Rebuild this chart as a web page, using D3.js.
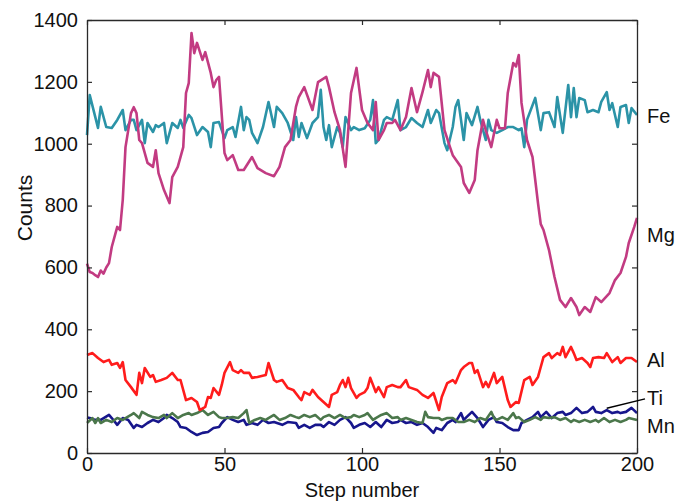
<!DOCTYPE html>
<html>
<head>
<meta charset="utf-8">
<script src="https://cdn.jsdelivr.net/npm/d3@7"></script>
<style>
  html, body { margin: 0; padding: 0; background: #fff; }
  svg { display: block; font-family: "Liberation Sans", Arial, sans-serif; }
</style>
</head>
<body>
<svg id="chart" width="676" height="502"></svg>
<script>
// ---- data: [step, counts] ----
const fe = [[0,1028],[1,1157],[4,1051],[5,1119],[7,1054],[9,1051],[11,1077],[13,1109],[14,1044],[16,1077],[17,1077],[18,1044],[20,1077],[21,1002],[22,1067],[24,1038],[25,1060],[26,1054],[28,1067],[29,1002],[31,1067],[33,1051],[34,1077],[35,1051],[37,1093],[38,1083],[40,1028],[42,1054],[44,1038],[45,989],[46,1067],[48,1070],[50,1018],[51,1044],[53,1054],[54,1022],[56,1119],[57,1044],[58,1086],[59,1077],[60,1035],[62,1002],[64,1054],[66,1135],[68,1054],[69,1119],[71,1099],[73,1067],[75,1012],[76,1086],[77,1022],[78,1067],[80,1018],[82,1067],[84,1086],[85,1174],[86,1054],[87,1012],[88,1060],[89,989],[91,1054],[92,1035],[93,989],[94,1086],[96,1044],[97,1054],[99,1044],[101,1050],[103,1077],[104,1141],[105,1002],[106,1012],[108,1077],[109,1086],[111,1077],[113,1141],[114,1044],[116,1054],[118,1083],[120,1067],[122,1054],[124,1109],[125,1067],[127,1109],[128,1099],[130,1002],[131,979],[133,1054],[134,1119],[135,1141],[136,1077],[137,1012],[138,1099],[140,1060],[142,1119],[143,1077],[145,1012],[146,1077],[147,1044],[149,1035],[151,1044],[153,1054],[155,1054],[157,1044],[158,1050],[159,989],[160,1077],[163,1148],[165,1044],[166,1099],[168,1102],[170,1054],[171,1151],[173,1035],[175,1190],[176,1086],[177,1180],[178,1086],[179,1148],[181,1141],[182,1102],[184,1109],[186,1102],[187,1135],[189,1167],[190,1109],[191,1131],[193,1054],[194,1119],[196,1125],[197,1067],[198,1115],[200,1093]];

const mg = [[0,612],[1,585],[2,582],[3,575],[4,569],[5,590],[6,580],[7,600],[8,614],[9,666],[11,731],[12,721],[13,818],[14,989],[16,1099],[17,1118],[18,1099],[19,1012],[20,1002],[22,938],[24,925],[25,979],[26,905],[28,850],[30,808],[31,892],[33,925],[35,989],[36,1164],[37,1196],[38,1358],[39,1293],[40,1326],[42,1271],[43,1296],[45,1229],[46,1183],[47,1206],[48,1216],[50,970],[51,947],[53,963],[55,915],[57,915],[60,957],[62,921],[65,905],[68,895],[70,925],[72,989],[74,1012],[76,1120],[77,1151],[79,1183],[82,1109],[84,1199],[87,1216],[88,1183],[90,1102],[92,1044],[94,925],[96,1164],[98,1245],[100,1109],[102,1067],[104,1044],[105,1135],[106,1012],[108,1044],[109,1067],[111,1067],[112,1077],[114,1044],[116,1086],[118,1180],[120,1102],[122,1167],[124,1238],[125,1183],[126,1229],[128,1216],[130,1044],[132,989],[133,963],[136,925],[137,873],[139,841],[141,883],[142,979],[144,1077],[145,1044],[147,989],[149,1077],[150,1050],[152,1050],[153,1164],[155,1261],[156,1250],[157,1287],[158,1132],[160,1012],[162,957],[164,808],[165,740],[166,721],[168,656],[170,569],[172,495],[174,472],[176,501],[178,472],[179,446],[181,472],[183,456],[185,504],[187,488],[190,517],[192,559],[194,582],[196,634],[197,679],[199,731],[200,760]];

const al = [[0,317],[2,323],[4,307],[6,294],[8,301],[9,285],[11,291],[12,275],[13,294],[14,236],[16,213],[18,188],[19,259],[20,226],[21,275],[23,246],[24,252],[25,230],[27,236],[29,243],[31,259],[33,236],[34,236],[36,171],[38,178],[40,165],[41,139],[43,149],[44,181],[45,178],[46,210],[48,188],[49,220],[50,259],[52,294],[53,268],[55,259],[56,268],[57,259],[59,259],[60,243],[62,246],[65,252],[66,291],[68,236],[69,230],[71,236],[73,210],[75,204],[77,181],[78,171],[79,197],[81,188],[82,204],[84,181],[86,165],[88,149],[89,188],[91,197],[92,220],[93,236],[94,213],[95,243],[96,210],[98,178],[99,188],[101,197],[102,210],[103,243],[105,197],[106,213],[108,181],[109,213],[111,220],[113,213],[114,213],[116,236],[117,213],[120,204],[122,188],[124,178],[126,194],[128,139],[129,181],[131,226],[133,236],[134,226],[136,268],[137,278],[139,291],[140,291],[141,259],[142,268],[144,213],[145,230],[146,213],[148,259],[149,226],[151,246],[153,171],[154,149],[156,165],[157,162],[159,236],[161,246],[162,220],[164,246],[165,278],[166,310],[168,323],[169,307],[171,323],[172,317],[173,343],[174,310],[176,343],[177,323],[178,301],[180,307],[182,291],[183,278],[184,307],[186,310],[188,307],[189,323],[191,294],[193,310],[194,291],[196,307],[198,307],[200,294]];

const ti = [[0,115],[1,113],[3,107],[5,107],[8,123],[9,113],[11,91],[13,113],[15,107],[17,81],[18,91],[20,84],[22,97],[24,107],[26,100],[28,113],[29,123],[31,113],[33,100],[34,84],[36,81],[38,68],[40,58],[42,65],[44,68],[46,81],[48,84],[49,97],[51,116],[53,107],[55,100],[57,107],[58,91],[60,97],[62,91],[64,107],[66,97],[68,100],[71,91],[73,100],[76,97],[77,81],[79,91],[81,81],[83,91],[85,91],[86,84],[88,100],[90,91],[92,107],[94,116],[96,97],[97,81],[99,91],[101,97],[103,84],[105,100],[107,84],[109,107],[111,97],[113,100],[114,107],[116,97],[118,100],[120,91],[122,97],[124,84],[126,65],[127,81],[129,74],[131,97],[133,107],[134,100],[136,129],[137,107],[138,116],[140,133],[142,113],[144,84],[146,107],[148,116],[149,100],[151,97],[153,84],[155,74],[157,74],[158,97],[160,107],[162,116],[164,133],[165,116],[167,133],[169,113],[171,129],[173,133],[174,123],[176,129],[178,146],[180,129],[182,133],[184,149],[185,133],[187,129],[189,139],[191,129],[193,133],[194,129],[196,133],[198,146],[200,129]];

const mn = [[0,97],[2,113],[3,97],[4,113],[5,97],[7,107],[9,100],[11,113],[13,107],[14,113],[16,123],[17,129],[19,113],[20,133],[22,123],[24,116],[26,113],[28,123],[29,113],[31,129],[33,113],[35,123],[37,129],[38,123],[40,129],[42,139],[44,123],[46,133],[48,116],[49,113],[51,113],[53,116],[55,113],[57,129],[58,139],[59,97],[61,107],[63,113],[65,107],[66,113],[68,123],[70,107],[72,113],[74,123],[76,116],[77,113],[79,123],[81,116],[83,123],[85,107],[86,116],[88,123],[90,113],[92,123],[94,113],[96,116],[97,123],[99,116],[101,123],[102,129],[104,107],[105,113],[107,123],[109,129],[111,113],[113,116],[114,107],[116,113],[118,107],[120,100],[122,97],[123,133],[124,116],[126,113],[128,113],[129,107],[131,113],[133,113],[135,100],[137,100],[139,107],[141,100],[143,113],[145,107],[147,133],[148,113],[149,107],[151,116],[153,107],[155,129],[156,113],[157,116],[159,100],[161,107],[163,116],[165,107],[166,116],[168,113],[170,116],[172,107],[174,113],[176,100],[177,107],[179,100],[181,107],[183,100],[185,107],[186,100],[188,113],[190,100],[192,107],[194,100],[196,107],[197,113],[200,107]];

const xTicks = [0, 50, 100, 150, 200];
const yTicks = [0, 200, 400, 600, 800, 1000, 1200, 1400];
const seriesNames = ["Fe", "Mg", "Al", "Ti", "Mn"];
const labelValues = [1090, 705, 300, 178, 88];

// ---- layout ----
const svg = d3.select("#chart");
const L = 87, R = 637, T = 20, B = 453;
const x = d3.scaleLinear().domain([0, 200]).range([L, R]);
const y = d3.scaleLinear().domain([0, 1400]).range([B, T]);

const colors = { Fe: "#2b93a7", Mg: "#c23b82", Al: "#ff1c1c", Ti: "#17168c", Mn: "#4b774b" };
const dataMap = { Fe: fe, Mg: mg, Al: al, Ti: ti, Mn: mn };

const line = d3.line().x(d => x(d[0])).y(d => y(d[1]));

["Ti", "Mn", "Al", "Fe", "Mg"].forEach(name => {
  svg.append("path")
    .datum(dataMap[name])
    .attr("fill", "none")
    .attr("stroke", colors[name])
    .attr("stroke-width", 2.6)
    .attr("stroke-linejoin", "round")
    .attr("d", line);
});

// ---- axes (box with inward ticks) ----
const axisColor = "#2a2a2a";
const tickLen = 5;
const fontSize = 20;
const fmt = d3.format("d");

const gx = svg.append("g").attr("transform", `translate(0,${B})`)
  .call(d3.axisBottom(x).tickValues(xTicks).tickFormat(fmt).tickSizeInner(-tickLen).tickSizeOuter(0).tickPadding(6));
const gy = svg.append("g").attr("transform", `translate(${L},0)`)
  .call(d3.axisLeft(y).tickValues(yTicks).tickFormat(fmt).tickSizeInner(-tickLen).tickSizeOuter(0).tickPadding(9));
const gxt = svg.append("g").attr("transform", `translate(0,${T})`)
  .call(d3.axisTop(x).tickValues(xTicks).tickSizeInner(-tickLen).tickSizeOuter(0).tickFormat(""));
const gyr = svg.append("g").attr("transform", `translate(${R},0)`)
  .call(d3.axisRight(y).tickValues(yTicks).tickSizeInner(-tickLen).tickSizeOuter(0).tickFormat(""));

[gx, gy, gxt, gyr].forEach(g => {
  g.select(".domain").attr("stroke", axisColor).attr("stroke-width", 1.3);
  g.selectAll(".tick line").attr("stroke", axisColor).attr("stroke-width", 1.2);
  g.selectAll(".tick text")
    .attr("fill", "#111")
    .style("font-family", '"Liberation Sans", Arial, sans-serif')
    .style("font-size", fontSize + "px");
});
gx.selectAll(".tick text").attr("dy", "0.6em");

// axis titles
svg.append("text")
  .attr("x", (L + R) / 2).attr("y", 497)
  .attr("text-anchor", "middle")
  .style("font-size", "20px").attr("fill", "#111")
  .text("Step number");
svg.append("text")
  .attr("transform", `translate(32,208) rotate(-90)`)
  .attr("text-anchor", "middle")
  .style("font-size", "21px").attr("fill", "#111")
  .text("Counts");

// series labels at right
seriesNames.forEach((name, i) => {
  svg.append("text")
    .attr("x", R + 10)
    .attr("y", y(labelValues[i]))
    .attr("dy", "0.35em")
    .style("font-size", fontSize + "px").attr("fill", "#111")
    .text(name);
});

// leader line for Ti
svg.append("line")
  .attr("x1", x(189)).attr("y1", y(145))
  .attr("x2", R + 8).attr("y2", y(175))
  .attr("stroke", "#000").attr("stroke-width", 1.5);
</script>
</body>
</html>
